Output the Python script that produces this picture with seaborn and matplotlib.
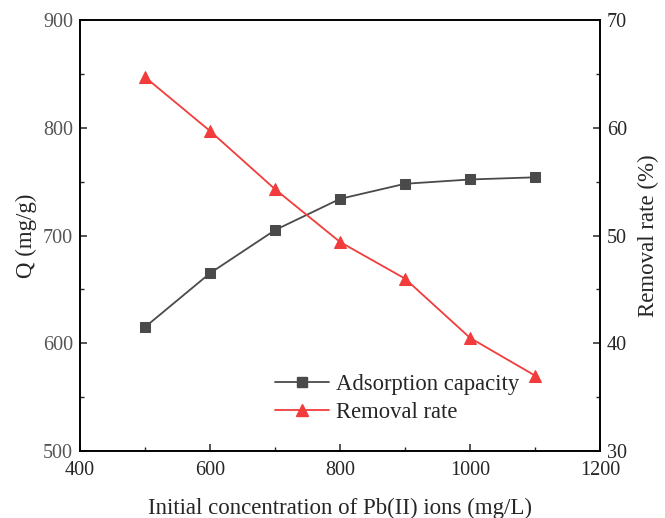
import matplotlib
matplotlib.use("Agg")
import matplotlib.pyplot as plt
import seaborn as sns
import pandas as pd
from matplotlib.ticker import MultipleLocator
from matplotlib.lines import Line2D

sns.set_style("white")
plt.rcParams['font.family'] = ['Liberation Serif', 'DejaVu Serif']
plt.rcParams['mathtext.fontset'] = 'stix'

concentration = [500, 600, 700, 800, 900, 1000, 1100]
adsorption_capacity = [615, 665, 705, 734, 748, 752, 754]
removal_rate = [64.7, 59.7, 54.3, 49.4, 46.0, 40.5, 37.0]

df = pd.DataFrame({"c": concentration, "q": adsorption_capacity, "r": removal_rate})

c_black = '#4a4a4a'
c_red = '#f23c3c'

fig = plt.figure(figsize=(6.65, 5.18), dpi=100)
ax = fig.add_axes([0.1203, 0.1293, 0.782, 0.8321])
ax2 = ax.twinx()

sns.lineplot(data=df, x="c", y="q", ax=ax, color=c_black, marker='s', markersize=6.5,
             markeredgecolor=c_black, linewidth=1.3, legend=False)
sns.lineplot(data=df, x="c", y="r", ax=ax2, color=c_red, marker='^', markersize=8,
             markeredgecolor=c_red, linewidth=1.3, legend=False)

ax.set_xlim(400, 1200)
ax.set_ylim(500, 900)
ax2.set_ylim(30, 70)
ax.xaxis.set_major_locator(MultipleLocator(200))
ax.xaxis.set_minor_locator(MultipleLocator(100))
ax.yaxis.set_major_locator(MultipleLocator(100))
ax.yaxis.set_minor_locator(MultipleLocator(50))
ax2.yaxis.set_major_locator(MultipleLocator(10))
ax2.yaxis.set_minor_locator(MultipleLocator(5))

for a in (ax, ax2):
    for s in a.spines.values():
        s.set_color('black')
        s.set_linewidth(1.2)

ax.tick_params(axis='both', which='major', direction='in', length=5, width=1.1, labelsize=14.5,
               left=True, bottom=True, top=False, right=False, pad=5)
ax.tick_params(axis='x', which='major', pad=7)
ax.tick_params(axis='both', which='minor', direction='in', length=3, width=1.0,
               left=True, bottom=True, top=False, right=False)
ax.tick_params(axis='y', labelcolor='#555555')
ax2.tick_params(axis='y', which='major', direction='in', length=5, width=1.1, labelsize=14.5,
                right=True, pad=5)
ax2.tick_params(axis='y', which='minor', direction='in', length=3, width=1.0, right=True)

ax.set_xlabel("Initial concentration of Pb(II) ions (mg/L)", fontsize=16.5, labelpad=13)
ax.set_ylabel("Q (mg/g)", fontsize=16.5, labelpad=4)
ax2.set_ylabel("Removal rate (%)", fontsize=16.5, labelpad=8)

handles = [
    Line2D([], [], color=c_black, marker='s', markersize=6.5, linewidth=1.3, label='Adsorption capacity'),
    Line2D([], [], color=c_red, marker='^', markersize=8, linewidth=1.3, label='Removal rate'),
]
ax2.legend(handles=handles, loc='upper left', bbox_to_anchor=(0.357, 0.2), frameon=False,
           fontsize=16.3, handlelength=2.4, handletextpad=0.3, labelspacing=0.3, borderaxespad=0)

fig.savefig("out.png", dpi=100)
